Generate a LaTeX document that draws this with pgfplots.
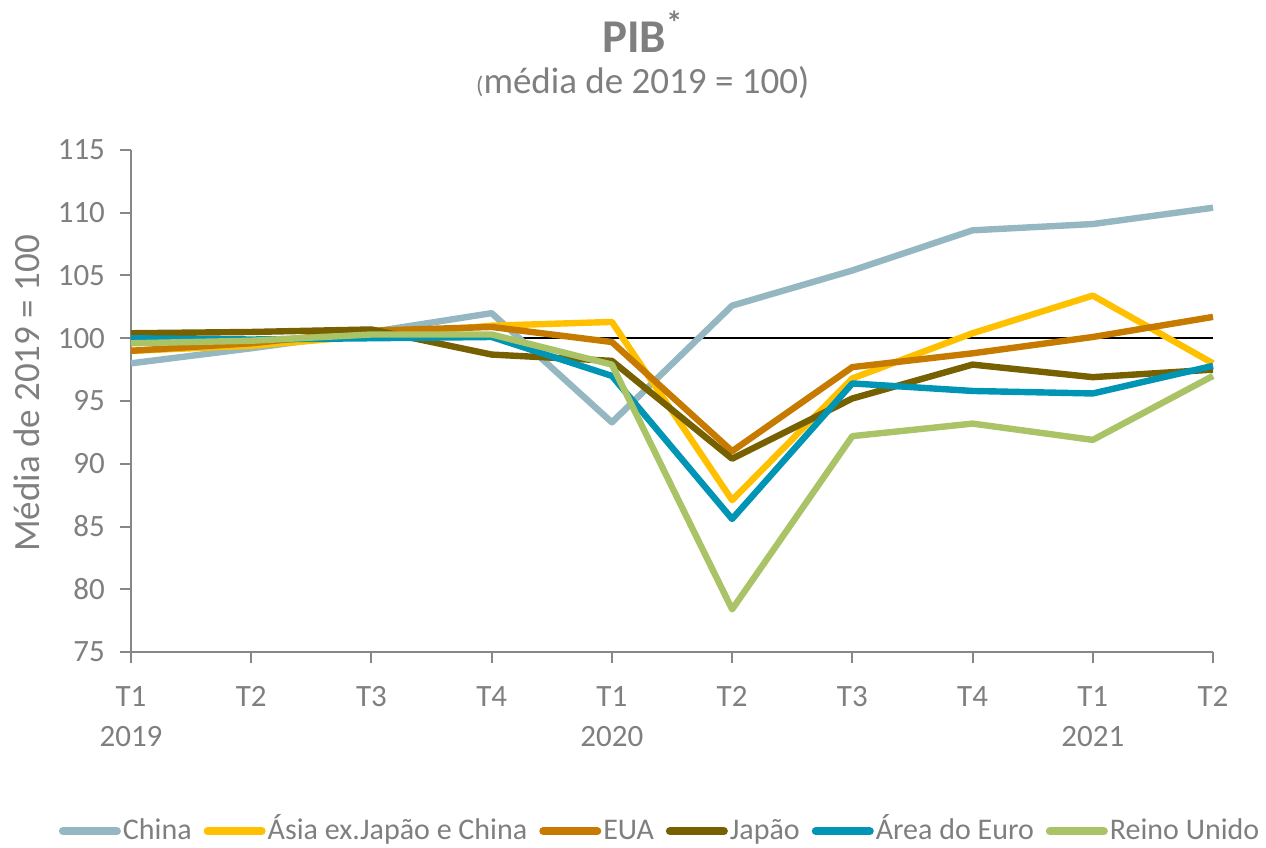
\documentclass[border=0pt]{standalone}
\usepackage{fontspec}
\setmainfont{Carlito}
\usepackage{pgfplots}
\pgfplotsset{compat=1.18}

\definecolor{txtgrey}{HTML}{7F7F7F}
\definecolor{axgrey}{HTML}{878787}
\definecolor{cchina}{HTML}{95B7C1}
\definecolor{casia}{HTML}{FFC000}
\definecolor{ceua}{HTML}{C67A00}
\definecolor{cjapao}{HTML}{766000}
\definecolor{ceuro}{HTML}{0094B5}
\definecolor{cuk}{HTML}{A9C366}

\begin{document}
\begin{tikzpicture}
\begin{axis}[
    scale only axis,
    width=541pt, height=251pt,
    xmin=0, xmax=9,
    ymin=75, ymax=115,
    ytick={75,80,...,115},
    xtick={0,...,9},
    xticklabels={\strut T1\\2019,\strut T2,\strut T3,\strut T4,\strut T1\\2020,
        \strut T2,\strut T3,\strut T4,\strut T1\\2021,\strut T2},
    axis x line*=bottom,
    axis y line*=left,
    axis line style={axgrey, line width=1.2pt, -},
    tick style={axgrey, line width=1pt},
    tick align=outside,
    major tick length=5.5pt,
    /pgf/number format/assume math mode=true,
    ticklabel style={text=txtgrey},
    yticklabel style={font=\fontsize{15.5}{18}\selectfont, xshift=-4pt},
    xticklabel style={font=\fontsize{15.5}{20}\selectfont, align=center, yshift=-4pt},
    ylabel={Média de 2019 = 100},
    ylabel style={font=\fontsize{18.5}{20}\selectfont, text=txtgrey,
        at={(axis description cs:-0.096,0.515)}, anchor=center},
    clip=false,
    legend columns=6,
    legend style={at={(axis description cs:0.489,-0.357)}, anchor=center,
        draw=none, fill=none, font=\fontsize{15}{18}\selectfont, text=txtgrey,
        inner sep=0pt,
        nodes={inner sep=1pt, text height=11pt, text depth=3pt},
        /tikz/every odd column/.append style={column sep=0pt},
        /tikz/every even column/.append style={column sep=5pt}},
    legend cell align=left,
    legend image code/.code={\draw[#1, line width=4pt, line cap=round] (0pt,0pt) -- (27pt,0pt);},
    every axis plot/.append style={line width=3.2pt, line join=round},
]
\addplot[black, line width=1pt, forget plot] coordinates {(0,100) (9,100)};

\addplot[cchina] coordinates {
    (0,98.0) (1,99.2) (2,100.5) (3,102.0) (4,93.3)
    (5,102.6) (6,105.4) (7,108.6) (8,109.1) (9,110.4)};
\addplot[casia] coordinates {
    (0,99.0) (1,99.4) (2,100.2) (3,101.0) (4,101.3)
    (5,87.1) (6,96.8) (7,100.4) (8,103.4) (9,98.0)};
\addplot[ceua] coordinates {
    (0,99.0) (1,99.6) (2,100.6) (3,100.9) (4,99.7)
    (5,91.0) (6,97.7) (7,98.8) (8,100.1) (9,101.7)};
\addplot[cjapao] coordinates {
    (0,100.4) (1,100.5) (2,100.7) (3,98.7) (4,98.2)
    (5,90.4) (6,95.2) (7,97.9) (8,96.9) (9,97.5)};
\addplot[ceuro] coordinates {
    (0,100.0) (1,99.9) (2,100.0) (3,100.1) (4,97.0)
    (5,85.6) (6,96.4) (7,95.8) (8,95.6) (9,97.8)};
\addplot[cuk] coordinates {
    (0,99.6) (1,99.8) (2,100.3) (3,100.3) (4,97.9)
    (5,78.4) (6,92.2) (7,93.2) (8,91.9) (9,97.0)};
\legend{China, Ásia ex.Japão e China, EUA, Japão, Área do Euro, Reino Unido}

\node[text=txtgrey, font=\fontsize{23.5}{26}\selectfont\bfseries]
    at (axis description cs:0.473,1.236) {PIB\textsuperscript{*}};
\node[text=txtgrey, font=\fontsize{18.5}{20}\selectfont]
    at (axis description cs:0.473,1.135) {{\fontsize{12}{14}\selectfont(}média de 2019 = 100)};

\coordinate (bl) at (axis description cs:-0.12107,-0.38845);
\coordinate (tr) at (axis description cs:1.04898,1.29880);
\end{axis}
\pgfresetboundingbox
\path[use as bounding box] (bl) rectangle (tr);
\end{tikzpicture}
\end{document}
